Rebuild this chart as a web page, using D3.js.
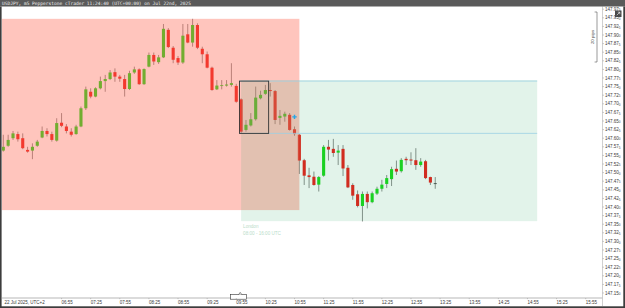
<!DOCTYPE html>
<html lang="en">
<head>
  <meta charset="UTF-8">
  <title>USDJPY m5</title>
  <style>
    body {
      margin: 0;
      padding: 0;
      background: #fff;
    }
    svg {
      display: block;
      font-family: 'Liberation Sans', Arial, sans-serif;
    }
    .wick { stroke: #707070; stroke-width: 0.8px; }
    .ylab, .xlab { fill: #3a3a3a; font-size: 4.5px; }
  </style>
</head>
<body>
  <svg width="625" height="308"></svg>

  <script src="https://d3js.org/d3.v7.min.js"></script>
  <script>
    // m5 candles starting 05:55 (UTC+2)
    const opens = [147.564,147.578,147.600,147.612,147.600,147.566,147.564,147.578,147.602,147.621,
      147.612,147.593,147.645,147.634,147.619,147.612,147.634,147.687,147.735,147.721,
      147.745,147.766,147.772,147.792,147.779,147.772,147.743,147.791,147.800,147.757,
      147.808,147.842,147.821,147.835,147.915,147.863,147.833,147.820,147.902,147.878,
      147.929,147.860,147.844,147.805,147.742,147.752,147.753,147.755,147.752,147.713,
      147.624,147.637,147.655,147.716,147.729,147.740,147.737,147.659,147.663,147.668,
      147.626,147.610,147.536,147.492,147.488,147.465,147.491,147.575,147.569,147.558,
      147.569,147.514,147.464,147.437,147.403,147.438,147.414,147.439,147.453,147.467,
      147.481,147.511,147.504,147.540,147.538,147.536,147.522,147.533,147.487,147.469];
    const highs = [147.610,147.610,147.621,147.619,147.614,147.575,147.585,147.595,147.634,147.629,
      147.619,147.658,147.673,147.641,147.629,147.639,147.692,147.750,147.745,147.748,
      147.779,147.784,147.798,147.803,147.784,147.784,147.796,147.808,147.803,147.803,
      147.849,147.849,147.842,147.932,147.920,147.868,147.839,147.932,147.932,147.947,
      147.934,147.866,147.852,147.808,147.769,147.769,147.769,147.818,147.758,147.716,
      147.653,147.673,147.750,147.738,147.755,147.760,147.740,147.682,147.677,147.673,
      147.634,147.612,147.540,147.514,147.503,147.490,147.580,147.595,147.598,147.580,
      147.580,147.522,147.469,147.448,147.445,147.445,147.445,147.459,147.479,147.493,
      147.517,147.535,147.542,147.546,147.559,147.571,147.542,147.537,147.488,147.487];
    const lows = [147.561,147.575,147.595,147.590,147.568,147.558,147.539,147.575,147.600,147.605,
      147.590,147.590,147.632,147.614,147.605,147.610,147.632,147.682,147.716,147.719,
      147.742,147.735,147.769,147.764,147.764,147.721,147.740,147.787,147.755,147.755,
      147.806,147.813,147.816,147.833,147.862,147.818,147.813,147.816,147.876,147.866,
      147.859,147.818,147.803,147.738,147.740,147.742,147.750,147.750,147.703,147.614,
      147.619,147.634,147.651,147.713,147.726,147.721,147.641,147.639,147.648,147.622,
      147.607,147.496,147.464,147.455,147.462,147.445,147.488,147.535,147.546,147.522,
      147.490,147.455,147.421,147.399,147.358,147.396,147.411,147.435,147.445,147.455,
      147.461,147.493,147.500,147.522,147.522,147.508,147.517,147.481,147.464,147.453];
    const closes = [147.575,147.595,147.614,147.597,147.571,147.561,147.575,147.590,147.621,147.612,
      147.595,147.644,147.636,147.621,147.610,147.634,147.687,147.742,147.721,147.745,
      147.766,147.772,147.791,147.779,147.773,147.743,147.789,147.800,147.757,147.801,
      147.842,147.823,147.835,147.918,147.865,147.828,147.820,147.898,147.878,147.929,
      147.863,147.844,147.805,147.740,147.753,147.754,147.756,147.760,147.706,147.619,
      147.639,147.655,147.718,147.726,147.740,147.737,147.653,147.665,147.671,147.624,
      147.612,147.535,147.491,147.487,147.464,147.487,147.575,147.567,147.557,147.564,
      147.512,147.457,147.433,147.403,147.438,147.414,147.440,147.453,147.465,147.484,
      147.510,147.503,147.537,147.536,147.535,147.522,147.532,147.484,147.471,147.469];

    const xTickLabels = ["06:55","07:25","07:55","08:25","08:55","09:25","09:55","10:25","10:55",
      "11:25","11:55","12:25","12:55","13:25","13:55","14:25","14:55","15:25","15:55"];
    const yTickValues = [147.150,147.175,147.200,147.225,147.250,147.275,147.300,147.325,147.350,
      147.375,147.400,147.425,147.450,147.475,147.500,147.525,147.550,147.575,147.600,147.625,
      147.650,147.675,147.700,147.725,147.750,147.775,147.800,147.825,147.850,147.875,147.900,
      147.925,147.950,147.975];

    // session ranges
    const tokyo = { start: "02:00", end: "11:00", high: 147.947, low: 147.391 };
    const london = { start: "10:00", end: "15:05", high: 147.769, low: 147.359 };
    const openBox = { start: "10:00", end: "10:30", high: 147.766, low: 147.614 };
    const signal = { time: "10:55", price: 147.662 };

    const svg = d3.select("svg");
    const plot = { left: 2, right: 602.5, top: 6.5, bottom: 298 };

    const parse = d3.utcParse("%H:%M");
    const t0 = parse("05:55");
    const candles = closes.map((c, i) => ({
      t: d3.utcMinute.offset(t0, i * 5),
      o: opens[i], h: highs[i], l: lows[i], c: c
    }));

    const x = d3.scaleUtc().domain([parse("05:52"), parse("16:12")]).range([0.4, 602.2]);
    const y = d3.scaleLinear().domain([147.15, 147.975]).range([293, 9.2]);
    const bw = 3.1;

    svg.append("rect").attr("width", 625).attr("height", 308).attr("fill", "#fff");

    svg.append("clipPath").attr("id", "clip")
      .append("rect")
      .attr("x", plot.left).attr("y", plot.top)
      .attr("width", plot.right - plot.left).attr("height", plot.bottom - plot.top);

    const g = svg.append("g").attr("clip-path", "url(#clip)");

    // candles
    const cg = g.append("g");
    cg.selectAll("line").data(candles).enter().append("line")
      .attr("class", "wick")
      .attr("x1", d => x(d.t)).attr("x2", d => x(d.t))
      .attr("y1", d => y(d.h)).attr("y2", d => y(d.l));
    cg.selectAll("rect").data(candles).enter().append("rect")
      .attr("x", d => x(d.t) - bw / 2)
      .attr("width", bw)
      .attr("y", d => y(Math.max(d.o, d.c)))
      .attr("height", d => Math.max(0.8, Math.abs(y(d.o) - y(d.c))))
      .attr("fill", d => d.c > d.o ? "#14d814" : d.c < d.o ? "#ec1612" : "#333");

    // session overlays
    g.append("rect")
      .attr("x", x(parse(tokyo.start))).attr("y", y(tokyo.high))
      .attr("width", x(parse(tokyo.end)) - x(parse(tokyo.start)))
      .attr("height", y(tokyo.low) - y(tokyo.high))
      .attr("fill", "rgba(255,110,90,0.4)");
    g.append("rect")
      .attr("x", x(parse(london.start))).attr("y", y(london.high))
      .attr("width", x(parse(london.end)) - x(parse(london.start)))
      .attr("height", y(london.low) - y(london.high))
      .attr("fill", "rgba(62,173,115,0.15)");

    // opening range box + extension lines
    const bx0 = x(parse(openBox.start)) - 1.6, bx1 = x(parse(openBox.end)) - 1.6;
    [openBox.high, openBox.low].forEach(v => {
      g.append("line")
        .attr("x1", bx0).attr("x2", x(parse(london.end)))
        .attr("y1", y(v)).attr("y2", y(v))
        .attr("stroke", "#9dd0e4").attr("stroke-width", 0.8);
    });
    g.append("rect")
      .attr("x", bx0).attr("y", y(openBox.high))
      .attr("width", bx1 - bx0).attr("height", y(openBox.low) - y(openBox.high))
      .attr("fill", "none").attr("stroke", "#333").attr("stroke-width", 0.9);

    g.append("path")
      .attr("d", d3.symbol(d3.symbolCross, 11)())
      .attr("transform", `translate(${x(parse(signal.time))},${y(signal.price)})`)
      .attr("fill", "#29a6e6");

    g.append("text").attr("x", x(parse(london.start)) + 2).attr("y", y(london.low) + 6.5)
      .attr("fill", "#b9dcc9").attr("font-size", 4.6).text("London");
    g.append("text").attr("x", x(parse(london.start)) + 2).attr("y", y(london.low) + 13.5)
      .attr("fill", "#b9dcc9").attr("font-size", 4.6).text("08:00 - 16:00 UTC");

    // 20 pips bracket
    svg.append("path").attr("d", "M594.6,12H597V62H594.6")
      .attr("fill", "none").attr("stroke", "#555").attr("stroke-width", 0.6);
    svg.append("text").attr("transform", "translate(593.5,37) rotate(-90)")
      .attr("text-anchor", "middle").attr("fill", "#444").attr("font-size", 4.4)
      .text("20 pips");

    // axes
    svg.append("line").attr("x1", plot.left).attr("x2", plot.right)
      .attr("y1", plot.bottom).attr("y2", plot.bottom).attr("stroke", "#9a9a9a").attr("stroke-width", 0.7);
    svg.append("line").attr("x1", plot.right).attr("x2", plot.right)
      .attr("y1", plot.top).attr("y2", 306).attr("stroke", "#bbb").attr("stroke-width", 0.7);

    const ya = svg.append("g");
    yTickValues.forEach(v => {
      const s = v.toFixed(3);
      ya.append("line").attr("x1", plot.right).attr("x2", plot.right + 1.5)
        .attr("y1", y(v)).attr("y2", y(v)).attr("stroke", "#999").attr("stroke-width", 0.5);
      const t = ya.append("text").attr("class", "ylab")
        .attr("x", 605).attr("y", y(v) + 1.5).text(s.slice(0, -1));
      t.append("tspan").attr("font-size", 3.1).attr("dy", 0.6).text(s.slice(-1));
    });

    // marker on x axis
    svg.append("rect").attr("x", 230.5).attr("y", 294.6).attr("width", 16).attr("height", 4.6)
      .attr("fill", "#fff").attr("stroke", "#333").attr("stroke-width", 0.6);
    svg.append("path").attr("d", "M238.6,294.6L240.2,292.4L241.8,294.6")
      .attr("fill", "#fff").attr("stroke", "#333").attr("stroke-width", 0.6);

    const xa = svg.append("g");
    xa.append("text").attr("class", "xlab").attr("x", 4.5).attr("y", 304).text("22 Jul 2025, UTC+2");
    xTickLabels.forEach(s => {
      const px = x(parse(s));
      xa.append("line").attr("x1", px).attr("x2", px).attr("y1", plot.bottom).attr("y2", plot.bottom + 1.2)
        .attr("stroke", "#999").attr("stroke-width", 0.5);
      xa.append("text").attr("class", "xlab").attr("x", px).attr("y", 304).text(s);
    });

    // title bar and frame
    svg.append("rect").attr("width", 625).attr("height", 6.5).attr("fill", "#5a5a5a");
    svg.append("text").attr("x", 2).attr("y", 5).attr("fill", "#eee")
      .attr("font-family", "'DejaVu Sans Mono', monospace").attr("font-size", 4.55)
      .text("USDJPY, m5 Pepperstone cTrader 11:24:40 (UTC+00:00) on Jul 22nd, 2025");
    svg.append("rect").attr("x", 0).attr("y", 6.5).attr("width", 1.6).attr("height", 301.5).attr("fill", "#3d3d3d");
    svg.append("rect").attr("x", 623.3).attr("y", 6.5).attr("width", 1.7).attr("height", 301.5).attr("fill", "#3d3d3d");
    svg.append("rect").attr("x", 0).attr("y", 306.3).attr("width", 625).attr("height", 1.7).attr("fill", "#3d3d3d");

    // screenshot icon
    svg.append("rect").attr("x", 615).attr("y", 10.5).attr("width", 6.5).attr("height", 6.5)
      .attr("fill", "#4a4a4a");
    svg.append("path").attr("d", "M616.8,15.2L619.8,12.2M617.8,12.2H619.8V14.2")
      .attr("fill", "none").attr("stroke", "#fff").attr("stroke-width", 0.6);
  </script>
</body>
</html>
